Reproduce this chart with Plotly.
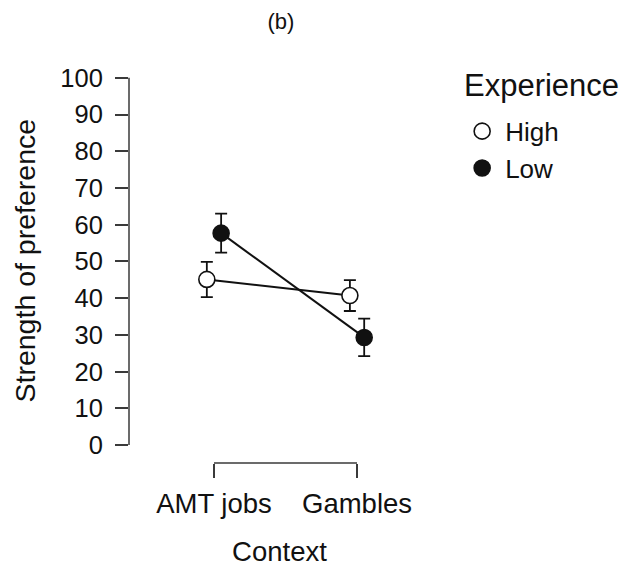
import plotly.graph_objects as go

# Interaction plot: strength of preference by context and experience level
contexts = ["AMT jobs", "Gambles"]
experience_levels = ["High", "Low"]
means = {
    "High": [45.1, 40.7],
    "Low": [57.7, 29.3],
}
errors = {
    "High": [4.8, 4.2],
    "Low": [5.3, 5.1],
}
y_ticks = list(range(0, 101, 10))

FONT = "Liberation Sans, Arial, Helvetica, sans-serif"
INK = "#111111"
AXIS_INK = "#3a3a3a"
DODGE = 0.05

W, H = 623, 567
M_L, M_R, M_T, M_B = 129, 193, 76, 104
PLOT_W = W - M_L - M_R
PLOT_H = H - M_T - M_B

styles = {
    "High": dict(color="white", line=dict(color=INK, width=1.6)),
    "Low": dict(color=INK, line=dict(color=INK, width=1.6)),
}
offsets = {"High": -DODGE, "Low": DODGE}

fig = go.Figure()

# connecting lines first so the points sit on top
for level in experience_levels:
    xs = [i + 1 + offsets[level] for i in range(len(contexts))]
    fig.add_trace(go.Scatter(
        x=xs, y=means[level], mode="lines", showlegend=False,
        line=dict(color=INK, width=2), hoverinfo="skip",
    ))

# points with standard-error bars
for level in experience_levels:
    xs = [i + 1 + offsets[level] for i in range(len(contexts))]
    fig.add_trace(go.Scatter(
        x=xs,
        y=means[level],
        name=level,
        mode="markers",
        marker=dict(size=16, symbol="circle", **styles[level]),
        error_y=dict(type="data", array=errors[level], visible=True,
                     color=INK, thickness=1.8, width=6),
    ))

# R-style axes: y line spans the tick range only, x line is a bracket between categories
fig.add_shape(type="line", xref="paper", yref="y", x0=0, x1=0, y0=0, y1=100,
              line=dict(color=AXIS_INK, width=1.5))
fig.add_shape(type="line", xref="x", yref="paper", x0=1, x1=len(contexts), y0=0, y1=0,
              line=dict(color=AXIS_INK, width=1.5))

# legend heading, set above the legend entries
fig.add_annotation(
    text="Experience", xref="paper", yref="paper",
    x=(462 - M_L) / PLOT_W, y=(H - M_B - 85) / PLOT_H,
    xanchor="left", yanchor="middle", showarrow=False,
    font=dict(size=31, family=FONT, color=INK),
)

# y-axis title, centred on the 0-100 span of the axis line
fig.add_annotation(
    text="Strength of preference", xref="paper", yref="paper",
    x=(24 - M_L) / PLOT_W, y=(H - M_B - 260.5) / PLOT_H,
    xanchor="center", yanchor="middle", textangle=-90, showarrow=False,
    font=dict(size=28.5, family=FONT, color=INK),
)

fig.update_layout(
    width=W, height=H,
    margin=dict(l=M_L, r=M_R, t=M_T, b=M_B, autoexpand=False),
    paper_bgcolor="white", plot_bgcolor="white",
    font=dict(family=FONT, color=INK),
    title=dict(text="(b)", xref="container", yref="container",
               x=0.451, y=0.963, xanchor="center", yanchor="middle",
               font=dict(size=22, family=FONT, color=INK)),
    showlegend=True,
    legend=dict(
        font=dict(size=26, family=FONT),
        xref="container", yref="container",
        x=0.737, y=0.81, xanchor="left", yanchor="top",
        bgcolor="rgba(0,0,0,0)", tracegroupgap=0,
        itemsizing="trace", itemwidth=36,
    ),
    xaxis=dict(
        range=[0.406, 2.51],
        tickvals=[i + 1 for i in range(len(contexts))],
        ticktext=contexts,
        ticks="outside", ticklen=14, tickwidth=1.5, tickcolor=AXIS_INK,
        ticklabelstandoff=2, automargin=False,
        showline=False, showgrid=False, zeroline=False,
        tickfont=dict(size=27.5, family=FONT, color=INK),
        title=dict(text="Context", font=dict(size=27.5, family=FONT, color=INK), standoff=25),
    ),
    yaxis=dict(
        range=[-4.9, 100.5],
        tickvals=y_ticks,
        ticks="outside", ticklen=13, tickwidth=1.5, tickcolor=AXIS_INK,
        ticklabelstandoff=7, automargin=False,
        showline=False, showgrid=False, zeroline=False,
        tickfont=dict(size=25.5, family=FONT, color=INK),
    ),
)

fig.write_html("out.html")
